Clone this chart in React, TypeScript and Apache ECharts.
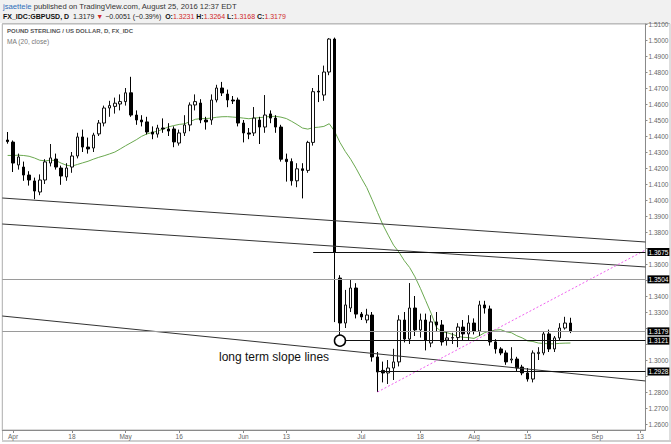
import { useEffect, useRef } from "react";
import * as echarts from "echarts";

// closes of the 19 sessions before the first drawn candle (needed for MA(20) warm-up)
const earlierCloses = [1.4230, 1.4240, 1.4195, 1.4220, 1.4270, 1.4405, 1.4315, 1.4180, 1.4250, 1.4485, 1.4460, 1.4375, 1.4195, 1.4125, 1.4120, 1.4145, 1.4250, 1.4380, 1.4365];

// daily candles, Mar 31 .. Aug 25 2016
const opens = [
  1.4375, 1.4362, 1.4219, 1.4206, 1.4156, 1.4119, 1.4050, 1.4125, 1.4231, 1.4256, 1.4200, 1.4144, 1.4206, 1.4275, 1.4394, 1.4331, 1.4325, 1.4413, 1.4481, 1.4575, 1.4585, 1.4600,
  1.4615, 1.4670, 1.4531, 1.4500, 1.4488, 1.4425, 1.4412, 1.4450, 1.4444, 1.4444, 1.4356, 1.4419, 1.4469, 1.4594, 1.4606, 1.4500, 1.4500, 1.4625, 1.4700, 1.4662, 1.4625, 1.4625,
  1.4481, 1.4419, 1.4419, 1.4500, 1.4456, 1.4538, 1.4512, 1.4456, 1.4255, 1.4240, 1.4120, 1.4195, 1.4185, 1.4360, 1.4680, 1.4656, 1.4800, 1.5006, 1.3512, 1.3231, 1.3325, 1.3450, 1.3287,
  1.3250, 1.3281, 1.3019, 1.2935, 1.2919, 1.2950, 1.2988, 1.3250, 1.3131, 1.3325, 1.3188, 1.3250, 1.3106, 1.3238, 1.3219, 1.3125, 1.3138, 1.3140, 1.3206, 1.3163,
  1.3231, 1.3181, 1.3344, 1.3319, 1.3113, 1.3069, 1.3044, 1.3000, 1.3006, 1.2956, 1.2919, 1.2881, 1.3040, 1.3044, 1.3163, 1.3069, 1.3138, 1.3200, 1.3231,
];
const highs = [
  1.4425, 1.4372, 1.4290, 1.4240, 1.4180, 1.4140, 1.4160, 1.4255, 1.4350, 1.4290, 1.4215, 1.4230, 1.4300, 1.4420, 1.4440, 1.4390, 1.4420, 1.4500, 1.4590, 1.4620, 1.4640, 1.4660,
  1.4700, 1.4770, 1.4560, 1.4530, 1.4520, 1.4460, 1.4470, 1.4510, 1.4480, 1.4460, 1.4440, 1.4530, 1.4610, 1.4660, 1.4630, 1.4520, 1.4660, 1.4720, 1.4738, 1.4690, 1.4650, 1.4640,
  1.4500, 1.4450, 1.4581, 1.4520, 1.4656, 1.4560, 1.4530, 1.4470, 1.4290, 1.4260, 1.4230, 1.4230, 1.4370, 1.4700, 1.4781, 1.4840, 1.5012, 1.5015, 1.3530, 1.3438, 1.3500, 1.3480, 1.3300,
  1.3320, 1.3300, 1.3050, 1.2990, 1.3000, 1.3070, 1.3280, 1.3300, 1.3481, 1.3400, 1.3290, 1.3290, 1.3280, 1.3300, 1.3250, 1.3180, 1.3170, 1.3230, 1.3250, 1.3280,
  1.3260, 1.3370, 1.3370, 1.3340, 1.3130, 1.3080, 1.3060, 1.3080, 1.3020, 1.2970, 1.2950, 1.3060, 1.3080, 1.3180, 1.3190, 1.3150, 1.3230, 1.3270, 1.3264,
];
const lows = [
  1.4352, 1.4175, 1.4190, 1.4120, 1.4090, 1.4005, 1.4030, 1.4100, 1.4210, 1.4190, 1.4095, 1.4120, 1.4170, 1.4260, 1.4300, 1.4290, 1.4300, 1.4400, 1.4460, 1.4520, 1.4540, 1.4560,
  1.4590, 1.4520, 1.4470, 1.4460, 1.4410, 1.4380, 1.4390, 1.4420, 1.4400, 1.4330, 1.4340, 1.4400, 1.4430, 1.4560, 1.4480, 1.4440, 1.4470, 1.4610, 1.4650, 1.4580, 1.4600, 1.4460,
  1.4360, 1.4380, 1.4400, 1.4350, 1.4420, 1.4480, 1.4420, 1.4240, 1.4115, 1.4090, 1.4080, 1.4010, 1.4170, 1.4340, 1.4612, 1.4620, 1.4780, 1.3237, 1.3121, 1.3200, 1.3300, 1.3260, 1.3250,
  1.3230, 1.2990, 1.2800, 1.2860, 1.2850, 1.2875, 1.2960, 1.3110, 1.3100, 1.3150, 1.3140, 1.3060, 1.3080, 1.3180, 1.3090, 1.3090, 1.3100, 1.3080, 1.3120, 1.3120,
  1.3160, 1.3150, 1.3290, 1.3090, 1.3040, 1.3030, 1.2970, 1.2980, 1.2930, 1.2905, 1.2865, 1.2860, 1.3000, 1.3030, 1.3050, 1.3050, 1.3120, 1.3190, 1.3168,
];
const closes = [
  1.4365, 1.4231, 1.4269, 1.4156, 1.4125, 1.4056, 1.4125, 1.4238, 1.4263, 1.4206, 1.4150, 1.4200, 1.4275, 1.4394, 1.4331, 1.4319, 1.4406, 1.4481, 1.4575, 1.4590, 1.4605, 1.4615,
  1.4670, 1.4531, 1.4500, 1.4488, 1.4425, 1.4412, 1.4450, 1.4444, 1.4431, 1.4363, 1.4419, 1.4469, 1.4594, 1.4615, 1.4500, 1.4488, 1.4625, 1.4700, 1.4669, 1.4625, 1.4619, 1.4481,
  1.4419, 1.4412, 1.4512, 1.4456, 1.4531, 1.4512, 1.4456, 1.4255, 1.4240, 1.4120, 1.4195, 1.4185, 1.4360, 1.4677, 1.4675, 1.4800, 1.5006, 1.3675, 1.3231, 1.3344, 1.3450, 1.3287, 1.3269,
  1.3281, 1.3019, 1.2925, 1.2919, 1.2950, 1.2988, 1.3250, 1.3131, 1.3325, 1.3188, 1.3250, 1.3125, 1.3238, 1.3219, 1.3113, 1.3138, 1.3140, 1.3206, 1.3163, 1.3231,
  1.3181, 1.3344, 1.3325, 1.3113, 1.3069, 1.3044, 1.2988, 1.3006, 1.2950, 1.2919, 1.2881, 1.3044, 1.3048, 1.3163, 1.3069, 1.3138, 1.3200, 1.3231, 1.3179,
];

const dateLabels: Record<string, string> = {
  "2016-04-01": "Apr", "2016-04-18": "18", "2016-05-02": "May", "2016-05-16": "16",
  "2016-06-01": "Jun", "2016-06-13": "13", "2016-07-01": "Jul", "2016-07-18": "18",
  "2016-08-01": "Aug", "2016-08-15": "15", "2016-09-01": "Sep", "2016-09-13": "13",
};
const priceTicks = [1.26, 1.27, 1.28, 1.29, 1.30, 1.31, 1.32, 1.33, 1.34, 1.35, 1.36, 1.37, 1.38, 1.39, 1.40, 1.41, 1.42, 1.43, 1.44, 1.45, 1.46, 1.47, 1.48, 1.49, 1.50, 1.51];
// tick labels hidden behind the level boxes on the price scale
const coveredTicks = [1.29, 1.31, 1.32, 1.35, 1.37];

// drawn levels: price, first session index (-2 = left edge), line colour
const levelPrices = [1.3675, 1.3504, 1.3179, 1.3121, 1.2928];
const levelStart = [56, -2, -2, 61, 68];
const levelColors = ["#111", "#9a9a9a", "#9a9a9a", "#111", "#111"];
// long term slope lines: price at left edge, price at right edge
const slopeLines = [[1.40125, 1.37375], [1.3850, 1.35813], [1.3275, 1.2869]];
// dotted trend line: [session, price] -> [session, price]
const trendLine = [[68, 1.2800], [118, 1.36875]];
const fibText = "100.00%(1.3504)";

const FONT = "Liberation Sans, Arial, sans-serif";

function buildDays(n: number): string[] {
  const out: string[] = [];
  let t = Date.UTC(2016, 2, 30);
  while (out.length < n) {
    const d = new Date(t);
    const wd = d.getUTCDay();
    if (wd !== 0 && wd !== 6) out.push(d.toISOString().slice(0, 10));
    t += 86400000;
  }
  return out;
}

export default function App() {
  const ref = useRef<HTMLDivElement>(null);
  useEffect(() => {
    if (!ref.current) return;
    const chart = echarts.init(ref.current, undefined, { renderer: "svg" });
    const days = buildDays(121); // session -2 .. 118
    const cat = (d: number) => days[d + 2];
    const edgeL = days[0];
    const edgeR = days[days.length - 1];

    const candleData: any[] = days.map(() => "-");
    const maData: any[] = days.map(() => null);
    const all = [...earlierCloses, ...closes];
    closes.forEach((c, i) => {
      candleData[i + 1] = [opens[i], c, lows[i], highs[i]];
      const j = i + earlierCloses.length;
      let s = 0;
      for (let k = j - 19; k <= j; k++) s += all[k];
      maData[i + 1] = +(s / 20).toFixed(5);
    });

    const boxLabel = (txt: string) => ({
      show: true, position: "end", distance: 2, formatter: txt,
      backgroundColor: "#000", color: "#fff", fontSize: 6.5, fontFamily: FONT,
      padding: [1, 1, 0, 1],
    });

    const mlData: any[] = [];
    slopeLines.forEach(([a, b]) => {
      mlData.push([
        { coord: [edgeL, a], lineStyle: { color: "#333", width: 1, type: "solid" }, label: { show: false } },
        { coord: [edgeR, b] },
      ]);
    });
    mlData.push([
      { coord: [cat(trendLine[0][0]), trendLine[0][1]], lineStyle: { color: "#f060f0", width: 1, type: [2, 2] }, label: { show: false } },
      { coord: [cat(trendLine[1][0]), trendLine[1][1]] },
    ]);
    levelPrices.forEach((p, i) => {
      mlData.push([
        { coord: [cat(levelStart[i]), p], lineStyle: { color: levelColors[i], width: 1, type: "solid" }, label: boxLabel(p.toFixed(4)) },
        { coord: [edgeR, p] },
      ]);
    });
    mlData.push([
      { coord: [edgeL, levelPrices[1]], lineStyle: { opacity: 0 }, label: { show: true, position: "insideEndBottom", formatter: fibText, color: "#888", fontSize: 6.8, fontFamily: FONT, distance: 2 } },
      { coord: [edgeR, levelPrices[1]] },
    ]);

    const labelTicks = priceTicks.filter((v) => !coveredTicks.some((c) => Math.abs(c - v) < 1e-9));

    chart.setOption({
      animation: false,
      textStyle: { fontFamily: FONT },
      grid: { left: 2.28, right: 25.52, top: 24, bottom: 14, containLabel: false, outerBoundsMode: "none", show: true, borderColor: "#b5b5b5", borderWidth: 1 },
      xAxis: {
        type: "category", data: days, boundaryGap: false,
        axisLine: { lineStyle: { color: "#8a8a8a" } },
        axisTick: { show: true, length: 3, interval: (_i: number, v: string) => !!dateLabels[v], lineStyle: { color: "#8a8a8a" } },
        axisLabel: { interval: (_i: number, v: string) => !!dateLabels[v], formatter: (v: string) => dateLabels[v] || "", fontSize: 6.5, color: "#666", margin: 3 },
        splitLine: { show: false },
      },
      yAxis: {
        type: "value", position: "right", min: 1.25625, max: 1.51,
        axisLine: { show: true, lineStyle: { color: "#8a8a8a" } },
        axisTick: { show: true, length: 2, customValues: priceTicks, lineStyle: { color: "#8a8a8a" } },
        axisLabel: { customValues: labelTicks, formatter: (v: number) => v.toFixed(4), fontSize: 6.5, color: "#666", margin: 3 },
        splitLine: { show: false },
      },
      graphic: [
        { type: "rect", shape: { x: 0, y: 0, width: 671, height: 23 }, style: { fill: "#f1f1f1" }, silent: true },
        { type: "rect", shape: { x: 2.5, y: 23.5, width: 667.5, height: 417 }, style: { fill: "none", stroke: "#bdbdbd", lineWidth: 1 }, silent: true },
        { type: "rect", shape: { x: 2, y: 440, width: 669, height: 2 }, style: { fill: "#cfcfcf" }, silent: true },
        {
          type: "text", x: 3, y: 6, silent: true,
          style: {
            text: "{u|jsaettele}{t| published on TradingView.com, August 25, 2016 12:37 EDT}",
            verticalAlign: "middle", font: `7.7px ${FONT}`,
            rich: { u: { fill: "#2f6fba", fontSize: 7.7, fontFamily: FONT }, t: { fill: "#333", fontSize: 7.7, fontFamily: FONT } },
          },
        },
        {
          type: "text", x: 3, y: 16, silent: true,
          style: {
            text: "{b|FX_IDC:GBPUSD, D}{t|  1.3179 }{r|▼}{t| −0.0051 (−0.39%)  }{b|O:}{r|1.3231}{b| H:}{r|1.3264}{b| L:}{r|1.3168}{b| C:}{r|1.3179}",
            verticalAlign: "middle", font: `7px ${FONT}`,
            rich: {
              b: { fill: "#111", fontWeight: "bold", fontSize: 7, fontFamily: FONT },
              t: { fill: "#222", fontSize: 7, fontFamily: FONT },
              r: { fill: "#d0282a", fontSize: 7, fontFamily: FONT },
            },
          },
        },
        { type: "text", x: 7, y: 31, silent: true, style: { text: "POUND STERLING / US DOLLAR, D, FX_IDC", fill: "#555", font: `bold 6px ${FONT}`, verticalAlign: "middle" } },
        { type: "text", x: 7, y: 41, silent: true, style: { text: "MA (20, close)", fill: "#777", font: `6.6px ${FONT}`, verticalAlign: "middle" } },
        { type: "text", x: 219, y: 357, silent: true, style: { text: "long term slope lines", fill: "#111", font: `12px ${FONT}`, verticalAlign: "middle" } },
      ],
      series: [
        {
          type: "line", data: maData, symbol: "none", showSymbol: false, silent: true,
          lineStyle: { color: "#6aa84f", width: 1 }, z: 1,
        },
        {
          type: "candlestick", data: candleData, barWidth: 3, silent: true, z: 2,
          itemStyle: { color: "#fff", color0: "#000", borderColor: "#111", borderColor0: "#000", borderWidth: 1 },
          markLine: { symbol: ["none", "none"], silent: true, animation: false, data: mlData },
          markPoint: {
            silent: true, animation: false,
            data: [{ coord: [cat(61), levelPrices[3]], symbol: "circle", symbolSize: 11, itemStyle: { color: "#fff", borderColor: "#000", borderWidth: 1.5 }, label: { show: false } }],
          },
        },
      ],
    });
    return () => chart.dispose();
  }, []);
  return <div ref={ref} style={{ position: "absolute", left: 0, top: 0, width: 671, height: 444, background: "#fff" }} />;
}
